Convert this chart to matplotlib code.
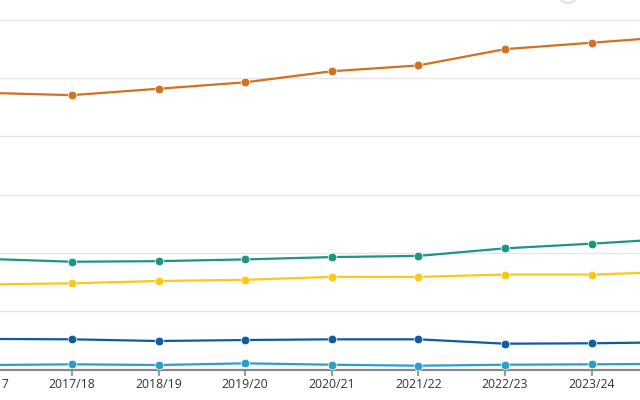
import matplotlib
matplotlib.use("Agg")
import matplotlib.pyplot as plt
from matplotlib.patches import Ellipse

plt.rcParams['font.family'] = ['Open Sans', 'DejaVu Sans']

years = ["2016/17", "2017/18", "2018/19", "2019/20", "2020/21",
         "2021/22", "2022/23", "2023/24", "2024/25"]
orange = [47.5, 47.1, 48.2, 49.3, 51.2, 52.2, 55.0, 56.1, 57.2]
teal = [19.0, 18.5, 18.6, 18.9, 19.3, 19.5, 20.8, 21.6, 22.5]
yellow = [14.6, 14.8, 15.2, 15.4, 15.9, 15.9, 16.3, 16.3, 16.8]
darkblue = [5.25, 5.18, 4.89, 5.06, 5.18, 5.18, 4.43, 4.50, 4.69]
lightblue = [0.76, 0.89, 0.77, 1.06, 0.82, 0.65, 0.82, 0.89, 0.98]
yticks = [0, 10, 20, 30, 40, 50, 60]

series = [
    (orange, "#d2711f"),
    (teal, "#1b9683"),
    (yellow, "#fcc917"),
    (darkblue, "#0d5d9f"),
    (lightblue, "#2b9fc8"),
]

fig = plt.figure(figsize=(6.4, 4.0), dpi=100)
ax = fig.add_axes([-60 / 640, 30.5 / 400, 760 / 640, 379.5 / 400])
x = list(range(len(years)))
for vals, col in series:
    ax.plot(x, vals, color=col, lw=1.6, marker='o', ms=6.2,
            markeredgecolor='white', markeredgewidth=0.5, zorder=3)

ax.set_xlim(-0.524, 8.252)
ax.set_ylim(0, 65.15)
ax.set_yticks(yticks)
ax.set_yticklabels([])
ax.tick_params(axis='y', length=0)
ax.grid(axis='y', color='#e6e6e6', lw=1.0)
ax.set_axisbelow(True)
ax.set_xticks(x)
ax.set_xticklabels(years, fontsize=8.8, color='#333333')
ax.tick_params(axis='x', length=4, width=1.2, color='#888888', pad=2)
for s in ['top', 'left', 'right']:
    ax.spines[s].set_visible(False)
ax.spines['bottom'].set_color('#888888')
ax.spines['bottom'].set_linewidth(1.6)

# faint button outline at the top edge
fig.patches.append(Ellipse((568 / 640, 1.0 + 6 / 400), 18 / 640, 18 / 400,
                           transform=fig.transFigure, fill=False,
                           edgecolor='#d8d8d8', lw=1.2))

fig.savefig("out.png", dpi=100)
